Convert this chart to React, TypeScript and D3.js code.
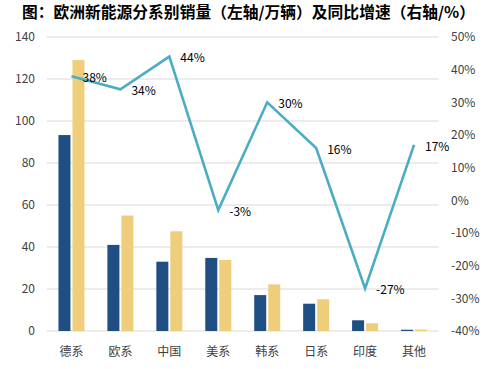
import React from "react";
import * as d3 from "d3";

const categories = ["德系", "欧系", "中国", "美系", "韩系", "日系", "印度", "其他"];
const sales2021 = [93.3, 41, 33, 34.8, 17.1, 13, 5.1, 0.6];
const sales2022 = [129, 55, 47.5, 33.8, 22.2, 15.1, 3.7, 0.7];
const growth = [38, 34, 44, -3, 30, 16, -27, 17];
const leftTicks = [0, 20, 40, 60, 80, 100, 120, 140];
const rightTicks = [-40, -30, -20, -10, 0, 10, 20, 30, 40, 50];
const title = "图：欧洲新能源分系别销量（左轴/万辆）及同比增速（右轴/%）";

const W = 482;
const H = 369;
const plotLeft = 47;
const plotRight = 438.5;
const plotTop = 37;
const plotBottom = 331;
const FONT = "'Noto Sans CJK SC', 'Noto Sans', sans-serif";

export default function App() {
  const x = d3.scaleBand<string>().domain(categories).range([plotLeft, plotRight]);
  const yL = d3.scaleLinear().domain([0, 140]).range([plotBottom, plotTop]);
  const yR = d3.scaleLinear().domain([-40, 50]).range([plotBottom, plotTop]);
  const cx = (c: string) => (x(c) as number) + x.bandwidth() / 2;
  const barW = 12;
  const gap = 1;
  const line = d3
    .line<number>()
    .x((_, i) => cx(categories[i]))
    .y((d) => yR(d));

  return (
    <svg
      width={W}
      height={H}
      style={{ position: "absolute", left: 0, top: 0, background: "#fff" }}
      fontFamily={FONT}
    >
      <text x={22} y={18} fontSize={15.5} fontWeight="bold" fill="#000" textLength={453} lengthAdjust="spacingAndGlyphs">
        {title}
      </text>
      {leftTicks.map((t) => (
        <line key={"g" + t} x1={plotLeft} x2={plotRight} y1={yL(t)} y2={yL(t)} stroke="#d9d9d9" strokeWidth={1} />
      ))}
      {leftTicks.map((t) => (
        <text key={"l" + t} x={35} y={yL(t)} dy="0.35em" textAnchor="end" fontSize={12} fill="#404040">
          {t}
        </text>
      ))}
      {rightTicks.map((t) => (
        <text key={"r" + t} x={451} y={yR(t)} dy="0.35em" textAnchor="start" fontSize={12} fill="#404040">
          {t + "%"}
        </text>
      ))}
      {categories.map((c, i) => (
        <g key={c}>
          <rect x={cx(c) - gap - barW} y={yL(sales2021[i])} width={barW} height={plotBottom - yL(sales2021[i])} fill="#1F4E83" />
          <rect x={cx(c) + gap} y={yL(sales2022[i])} width={barW} height={plotBottom - yL(sales2022[i])} fill="#EECE7A" />
          <text x={cx(c)} y={352} dy="0.35em" textAnchor="middle" fontSize={12} fill="#404040">
            {c}
          </text>
        </g>
      ))}
      <path d={line(growth) || ""} fill="none" stroke="#4BACC6" strokeWidth={2.6} strokeLinejoin="miter" />
      {growth.map((g, i) => (
        <text key={"d" + i} x={cx(categories[i]) + 11} y={yR(g) + 1.5} dy="0.35em" fontSize={12} fill="#000">
          {g + "%"}
        </text>
      ))}
    </svg>
  );
}
